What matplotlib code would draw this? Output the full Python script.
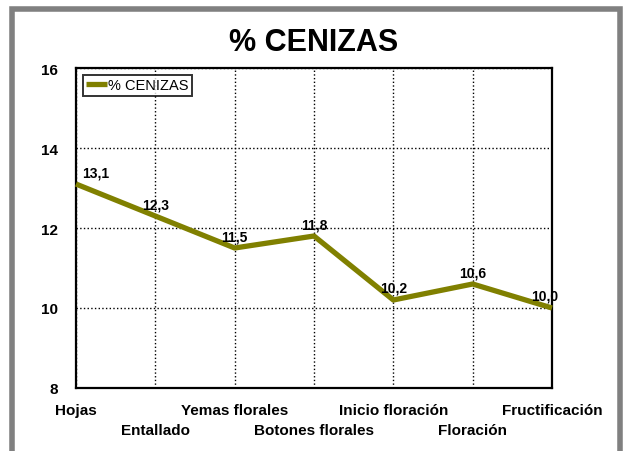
import matplotlib.pyplot as plt
from matplotlib.patches import Rectangle

plt.rcParams['font.family'] = ['Liberation Sans', 'DejaVu Sans']

etapas = ['Hojas', 'Entallado', 'Yemas florales', 'Botones florales',
          'Inicio floración', 'Floración', 'Fructificación']
cenizas = [13.1, 12.3, 11.5, 11.8, 10.2, 10.6, 10.0]
etiquetas = ['13,1', '12,3', '11,5', '11,8', '10,2', '10,6', '10,0']

fig = plt.figure(figsize=(6.31, 4.52), dpi=100)
ax = fig.add_axes([0.1204, 0.1394, 0.7544, 0.7079])

# gray outer frame
fig.patches.append(Rectangle((12 / 631, -0.1), 608 / 631, 1.1 - 10 / 452,
                             transform=fig.transFigure, fill=False,
                             edgecolor='#808080', linewidth=4, zorder=0))

x = list(range(len(etapas)))
ax.plot(x, cenizas, color='#808000', linewidth=3.8, label='% CENIZAS',
        solid_capstyle='butt', clip_on=False, zorder=3)

# data labels
offsets = [(6, 'left')] + [(0, 'center')] * 5 + [(-7, 'center')]
for i, (v, t) in enumerate(zip(cenizas, etiquetas)):
    dx, ha = offsets[i]
    ax.annotate(t, (i, v), xytext=(dx, 5), textcoords='offset pixels',
                ha=ha, va='bottom', fontsize=10, fontweight='bold', zorder=4)

ax.set_xlim(0, 6)
ax.set_ylim(8, 16)
ax.set_yticks([8, 10, 12, 14, 16])
ax.set_xticks(x)
ax.set_xticklabels(etapas, fontsize=11, fontweight='bold')
for lab in ax.get_yticklabels():
    lab.set_fontweight('bold')
    lab.set_fontsize(11)
ax.tick_params(axis='both', length=0)
ax.tick_params(axis='y', pad=13)
for i, tk in enumerate(ax.xaxis.get_major_ticks()):
    tk.set_pad(11 if i % 2 == 0 else 25)

ax.grid(True, color='black', linestyle=':', linewidth=1)
for s in ax.spines.values():
    s.set_linewidth(1.6)
    s.set_color('black')

ax.set_title('% CENIZAS', fontsize=22, fontweight='bold', pad=13)

leg = ax.legend(loc='upper left', fontsize=10.5, frameon=True, fancybox=False,
                handlelength=1.4, handletextpad=0.1, borderpad=0.25,
                borderaxespad=0.45)
leg.get_frame().set_edgecolor('black')
leg.get_frame().set_linewidth(1.4)

fig.savefig('out.png', dpi=100)
